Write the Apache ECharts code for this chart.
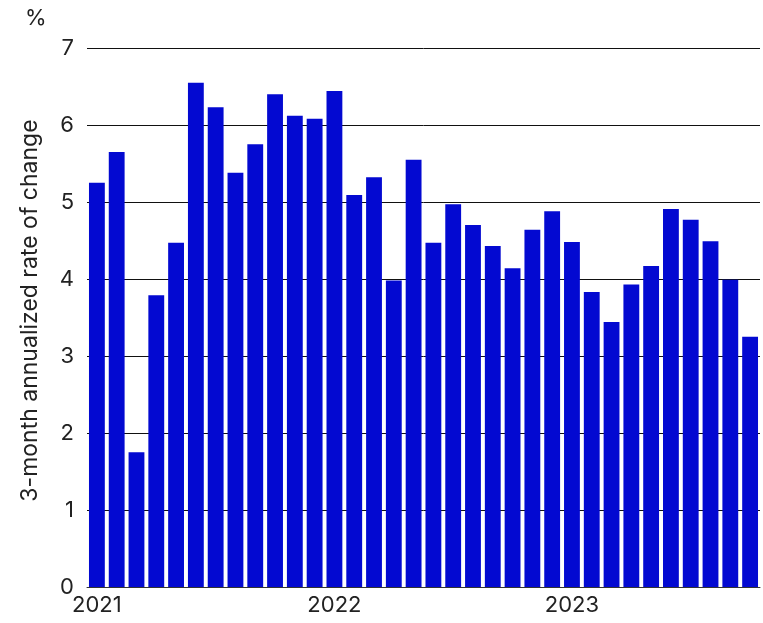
<!DOCTYPE html>
<html>
<head>
<meta charset="utf-8">
<script src="https://cdn.jsdelivr.net/npm/echarts@6/dist/echarts.min.js"></script>
<style>
  html, body { margin: 0; padding: 0; background: #fff; }
  #chart { width: 763px; height: 623px; }
</style>
</head>
<body>
<div id="chart"></div>
<script>
  // months Jan 2021 .. Oct 2023
  var months = [
    '2021-01', '2021-02', '2021-03', '2021-04', '2021-05', '2021-06',
    '2021-07', '2021-08', '2021-09', '2021-10', '2021-11', '2021-12',
    '2022-01', '2022-02', '2022-03', '2022-04', '2022-05', '2022-06',
    '2022-07', '2022-08', '2022-09', '2022-10', '2022-11', '2022-12',
    '2023-01', '2023-02', '2023-03', '2023-04', '2023-05', '2023-06',
    '2023-07', '2023-08', '2023-09', '2023-10'
  ];
  var rateOfChange = [
    5.25, 5.65, 1.75, 3.79, 4.47, 6.55, 6.23, 5.38, 5.75, 6.40, 6.12, 6.08,
    6.44, 5.09, 5.32, 3.98, 5.55, 4.47, 4.97, 4.70, 4.43, 4.14, 4.64, 4.88,
    4.48, 3.83, 3.44, 3.93, 4.17, 4.91, 4.77, 4.49, 3.99, 3.25
  ];
  var yTicks = { min: 0, max: 7, interval: 1 };

  var font = 'Inter';
  var chart = echarts.init(document.getElementById('chart'));
  var option = {
    backgroundColor: '#fff',
    animation: false,
    grid: { left: 87, right: 3, top: 48, bottom: 36 },
    graphic: [{
      type: 'text', left: 25, top: 7,
      style: { text: '%', fontSize: 22, fontFamily: font, fill: '#222' }
    }],
    xAxis: {
      type: 'category',
      data: months,
      axisLine: { show: true, lineStyle: { color: '#333', width: 1 } },
      axisTick: { show: false },
      axisLabel: {
        interval: 0,
        margin: 7,
        fontSize: 22,
        fontFamily: font,
        color: '#222',
        formatter: function (v) {
          return v.slice(5) === '01' ? v.slice(0, 4) : '';
        }
      }
    },
    yAxis: {
      type: 'value',
      min: yTicks.min, max: yTicks.max, interval: yTicks.interval,
      name: '3-month annualized rate of change',
      nameLocation: 'middle',
      nameRotate: 90,
      nameGap: 45,
      nameTextStyle: { fontSize: 23, fontFamily: font, color: '#222', padding: [0, 0, 0, 14] },
      axisLine: { show: false },
      axisTick: { show: false },
      axisLabel: { margin: 13, fontSize: 22, fontFamily: font, color: '#222' },
      splitLine: { lineStyle: { color: '#111', width: 1 } }
    },
    series: [{
      type: 'bar',
      data: rateOfChange,
      barCategoryGap: '20%',
      itemStyle: { color: '#0309d1' }
    }]
  };
  chart.setOption(option);
</script>
</body>
</html>
